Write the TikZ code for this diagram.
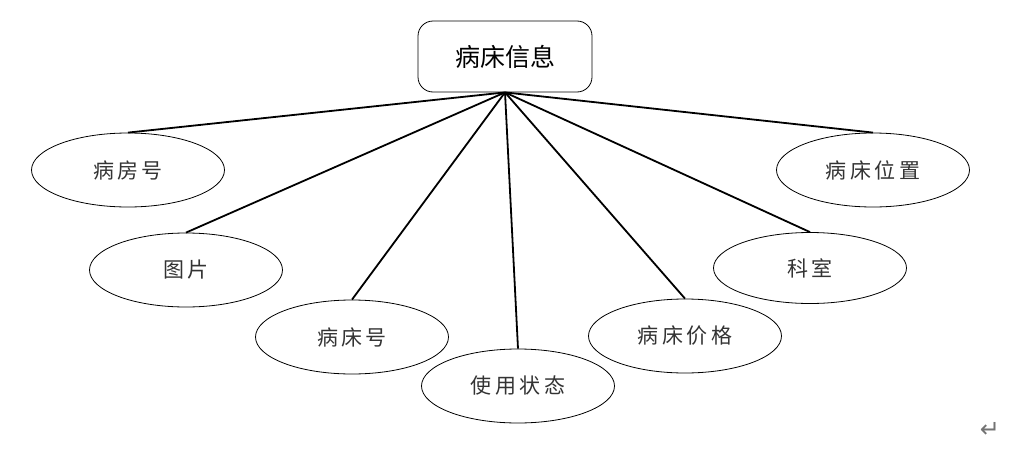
\documentclass[tikz,border=0pt]{standalone}
\usepackage{fontspec}
\usetikzlibrary{shapes.geometric}
\newfontfamily\cjkhead{Noto Sans CJK SC}
\newfontfamily\cjkbody[LetterSpace=16]{Noto Sans CJK SC}
\newfontfamily\symfont{DejaVu Sans}
\begin{document}
\begin{tikzpicture}[x=1pt,y=-1pt,
  attr/.style={draw=black, line width=0.8pt, ellipse, inner sep=0pt,
    minimum width=193pt, minimum height=74pt,
    font=\cjkbody\fontsize{21pt}{24pt}\selectfont, text=black!80},
  entity/.style={draw=black, line width=0.8pt, rounded corners=15pt,
    minimum width=174pt, minimum height=71pt, inner sep=0pt,
    font=\cjkhead\fontsize{25pt}{28pt}\selectfont},
  link/.style={line width=1.8pt}]
\useasboundingbox (0,0) rectangle (1031,450);
\node[entity] (bed) at (505,56.5) {病床信息};
\node[attr] (room) at (128,170) {病房号};
\node[attr] (pic) at (186,270) {图片};
\node[attr] (bedno) at (352,337) {病床号};
\node[attr] (state) at (518,386) {使用状态};
\node[attr] (price) at (685,336) {病床价格};
\node[attr, minimum height=71pt] (dept) at (810,268) {科室};
\node[attr] (pos) at (873,170) {病床位置};
\node[text=black!55, font=\symfont\fontsize{24pt}{26pt}\selectfont] (ret) at (990,430) {↵};
\foreach \n in {room,pic,bedno,state,price,dept,pos}
  \draw[link] (bed.south) -- (\n.north);
\end{tikzpicture}
\end{document}
